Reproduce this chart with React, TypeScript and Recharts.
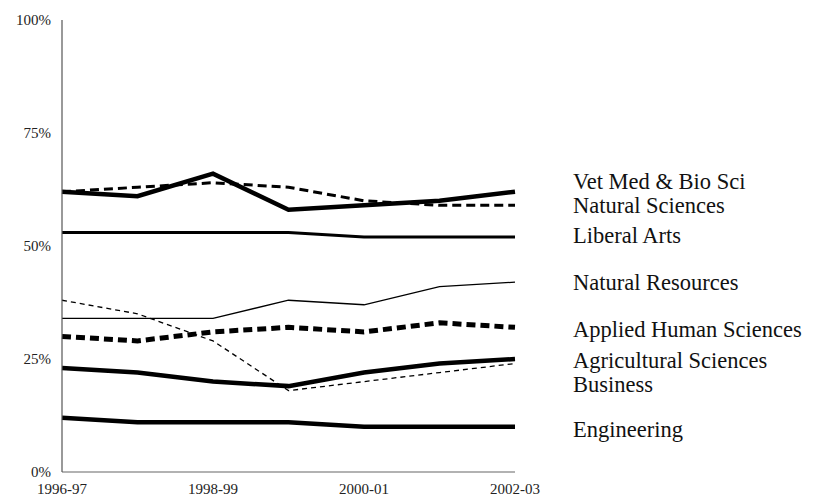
import React from 'react';
import { LineChart, Line, XAxis, YAxis, LabelList } from 'recharts';

const years = ['1996-97', '1997-98', '1998-99', '1999-00', '2000-01', '2001-02', '2002-03'];
const yTicks = [0, 25, 50, 75, 100];

const vetMed = [62, 61, 66, 58, 59, 60, 62];
const naturalSciences = [62, 63, 64, 63, 60, 59, 59];
const liberalArts = [53, 53, 53, 53, 52, 52, 52];
const naturalResources = [34, 34, 34, 38, 37, 41, 42];
const appliedHuman = [30, 29, 31, 32, 31, 33, 32];
const agricultural = [23, 22, 20, 19, 22, 24, 25];
const business = [38, 35, 29, 18, 20, 22, 24];
const engineering = [12, 11, 11, 11, 10, 10, 10];

const seriesNames = [
  'Vet Med & Bio Sci',
  'Natural Sciences',
  'Liberal Arts',
  'Natural Resources',
  'Applied Human Sciences',
  'Agricultural Sciences',
  'Business',
  'Engineering',
];
const seriesValues = [vetMed, naturalSciences, liberalArts, naturalResources, appliedHuman, agricultural, business, engineering];

// styling per series (kept separate from the data)
const styles = [
  { w: 4.5, dash: undefined, off: -10.5 },
  { w: 3, dash: '9 5', off: 0.5 },
  { w: 3, dash: undefined, off: -1.5 },
  { w: 1.3, dash: undefined, off: 0.5 },
  { w: 5, dash: '9 5', off: 2 },
  { w: 4.5, dash: undefined, off: 1.5 },
  { w: 1.3, dash: '5 4', off: 21 },
  { w: 4.5, dash: undefined, off: 3 },
];

const data = years.map((y, i) => {
  const row: Record<string, string | number> = { year: y };
  seriesNames.forEach((n, k) => {
    row['s' + k] = seriesValues[k][i];
  });
  return row;
});

const FONT = '"Liberation Serif", "Times New Roman", serif';

const makeLabel = (name: string, off: number) => (props: any) => {
  const { x, y, index } = props;
  if (index !== years.length - 1) return null;
  return (
    <text
      x={Number(x) + 58}
      y={Number(y) + off}
      dy="0.33em"
      fill="#111"
      fontSize={22.5}
      fontFamily={FONT}
      textAnchor="start"
    >
      {name}
    </text>
  );
};

export default function App() {
  return (
    <div style={{ position: 'absolute', left: 0, top: 0, width: 817, height: 497, background: '#fff' }}>
      <LineChart
        width={817}
        height={497}
        data={data}
        margin={{ top: 20, right: 302, bottom: 0, left: 12 }}
      >
        <XAxis
          dataKey="year"
          interval={1}
          height={25}
          tickLine={false}
          tickSize={0}
          tickMargin={11}
          axisLine={{ stroke: '#666', strokeWidth: 1.2 }}
          tick={{ fill: '#222', fontSize: 15, fontFamily: FONT }}
        />
        <YAxis
          width={50}
          domain={[0, 100]}
          ticks={yTicks}
          tickFormatter={(v: number) => `${v}%`}
          tickLine={false}
          tickSize={0}
          tickMargin={11}
          axisLine={{ stroke: '#555', strokeWidth: 1.2 }}
          tick={{ fill: '#222', fontSize: 15, fontFamily: FONT }}
        />
        {seriesNames.map((n, k) => (
          <Line
            key={n}
            dataKey={'s' + k}
            name={n}
            stroke="#000"
            strokeWidth={styles[k].w}
            strokeDasharray={styles[k].dash}
            dot={false}
            activeDot={false}
            isAnimationActive={false}
            strokeLinejoin="miter"
            strokeLinecap="butt"
            type="linear"
          >
            <LabelList dataKey={'s' + k} content={makeLabel(n, styles[k].off)} />
          </Line>
        ))}
      </LineChart>
    </div>
  );
}
